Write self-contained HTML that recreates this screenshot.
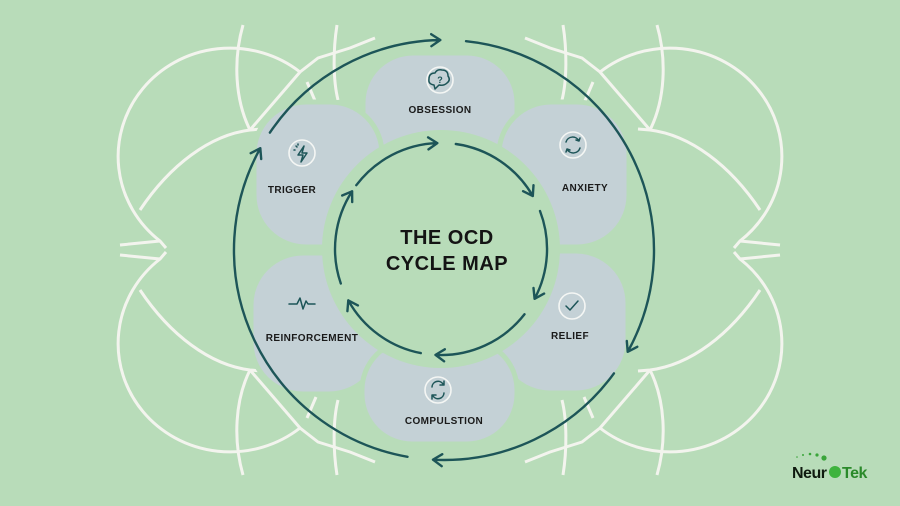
<!DOCTYPE html>
<html><head><meta charset="utf-8"><style>
html,body{margin:0;padding:0;background:#b8dcb9;width:900px;height:506px;overflow:hidden}
svg{display:block}
text{font-family:"Liberation Sans",sans-serif;font-weight:bold}
</style></head><body>
<svg id="s" width="900" height="506" viewBox="0 0 900 506" xmlns="http://www.w3.org/2000/svg">
<rect width="900" height="506" fill="#b8dcb9"/>
<g id="deco" fill="none" stroke="#f3f4ee" stroke-width="3" stroke-linejoin="round">
 <g id="left">
  <g id="lt">
   <path d="M160 241 A96 93 0 1 1 300 72 L318 58 L350 48 L375 38"/>
   <path d="M140 210 C 170 165 210 135 250 130 L262 129"/>
   <path d="M250 130 L300 72"/>
   <path d="M243 25 C 233 60 235 100 250 130"/>
   <path d="M337 25 C 333 50 333 80 338 100"/>
   <path d="M307 82 L316 103"/>
   <path d="M120 245 L160 241 L166 248"/>
  </g>
  <use href="#lt" transform="translate(0,500) scale(1,-1)"/>
 </g>
 <use href="#left" transform="translate(900,0) scale(-1,1)"/>
</g>
<g fill="#c4d1d6" stroke="#b8dcb9" stroke-width="5">
 <rect x="363" y="53" width="154" height="110" rx="50"/>
 <rect x="254" y="102" width="128" height="145" rx="52"/>
 <rect x="499" y="102" width="130" height="145" rx="52"/>
 <rect x="251" y="253" width="130" height="141" rx="52"/>
 <rect x="498" y="251" width="130" height="142" rx="52"/>
 <rect x="362" y="340" width="155" height="104" rx="50"/>
</g>
<circle cx="441" cy="249" r="119" fill="#b8dcb9"/>
<g id="arrows" fill="none" stroke="#1d5558" stroke-width="2.4" stroke-linecap="round" stroke-linejoin="round"></g>
<g fill="none" stroke="#f4f6f4" stroke-width="1.6">
 <circle cx="440" cy="80" r="13"/><circle cx="573" cy="145" r="13"/><circle cx="572" cy="306" r="13"/><circle cx="438" cy="390" r="13"/><circle cx="302" cy="153" r="13"/>
</g>
<g fill="none" stroke="#1d5558" stroke-width="1.5" stroke-linecap="round" stroke-linejoin="round">
 <path d="M434 85 q-6 -1 -5 -6 q0 -6 6 -6 q2 -4 7 -3 q6 0 6 6 q3 4 -1 7 q-3 3 -8 2 l-4 4z"/>
 <text x="440" y="83" font-size="9" fill="#1d5558" stroke="none" text-anchor="middle">?</text>
 <path d="M566 142 a7 7 0 0 1 13 -1 M580 138 l-1 3 -3 -1"/>
 <path d="M580 148 a7 7 0 0 1 -13 1 M566 152 l1 -3 3 1"/>
 <path d="M566 306 l4 4 8 -9"/>
 <path d="M432 387 a6 6 0 0 1 11 -3 M444 381 v4 h-4"/>
 <path d="M444 393 a6 6 0 0 1 -11 3 M432 399 v-4 h4"/>
 <path d="M304 146 l-6 9 h5 l-2 7 6 -9 h-5z"/>
 <path d="M296 146 l1 1 M294 150 h1 M298 144 v1"/>
 <path d="M289 304 h8 l3 -6 3 11 3 -8 2 3 h7"/>
</g>
<g fill="#1a1a1a" font-size="10" text-anchor="middle" letter-spacing="0.4">
 <text x="440" y="113">OBSESSION</text>
 <text x="292" y="193">TRIGGER</text>
 <text x="585" y="191">ANXIETY</text>
 <text x="312" y="341">REINFORCEMENT</text>
 <text x="570" y="339">RELIEF</text>
 <text x="444" y="424">COMPULSTION</text>
</g>
<g fill="#141414" font-size="20" text-anchor="middle" letter-spacing="0.5">
 <text x="447" y="244">THE OCD</text>
 <text x="447" y="270">CYCLE MAP</text>
</g>
<g>
 <circle cx="797" cy="457" r="0.8" fill="#3aa53a"/><circle cx="803" cy="455" r="1" fill="#3aa53a"/><circle cx="810" cy="454" r="1.3" fill="#3aa53a"/><circle cx="817" cy="455" r="1.6" fill="#3aa53a"/><circle cx="824" cy="458" r="2.6" fill="#3aa53a"/>
 <text x="792" y="478" font-size="16" fill="#0f1a0f" letter-spacing="-0.5">Neur</text>
 <circle cx="835" cy="472" r="6" fill="#3eb33e"/>
 <text x="842" y="478" font-size="16" fill="#2a8a2a" letter-spacing="-0.5">Tek</text>
</g>
</svg>
<script>
(function(){
 var g=document.getElementById('arrows');
 function arc(cx,cy,r,a0,a1){
  var d=Math.PI/180,x0=cx+r*Math.cos(a0*d),y0=cy+r*Math.sin(a0*d),x1=cx+r*Math.cos(a1*d),y1=cy+r*Math.sin(a1*d);
  var large=(a1-a0)>180?1:0;
  var p='M'+x0.toFixed(1)+' '+y0.toFixed(1)+' A'+r+' '+r+' 0 '+large+' 1 '+x1.toFixed(1)+' '+y1.toFixed(1);
  var tx=-Math.sin(a1*d),ty=Math.cos(a1*d),L=9,W=6;
  var bx=x1-tx*L,by=y1-ty*L,nx=-ty,ny=tx;
  p+=' M'+(bx+nx*W).toFixed(1)+' '+(by+ny*W).toFixed(1)+' L'+x1.toFixed(1)+' '+y1.toFixed(1)+' L'+(bx-nx*W).toFixed(1)+' '+(by-ny*W).toFixed(1);
  var e=document.createElementNS('http://www.w3.org/2000/svg','path');e.setAttribute('d',p);g.appendChild(e);
 }
 [[-143,-92],[-82,-30],[-21,28],[38,93],[101,151],[161,213]].forEach(function(s){arc(441,249,106,s[0],s[1]);});
 [[-146,-91],[-84,29],[36,93],[100,209]].forEach(function(s){arc(444,250,210,s[0],s[1]);});
})();
</script>
</body></html>
